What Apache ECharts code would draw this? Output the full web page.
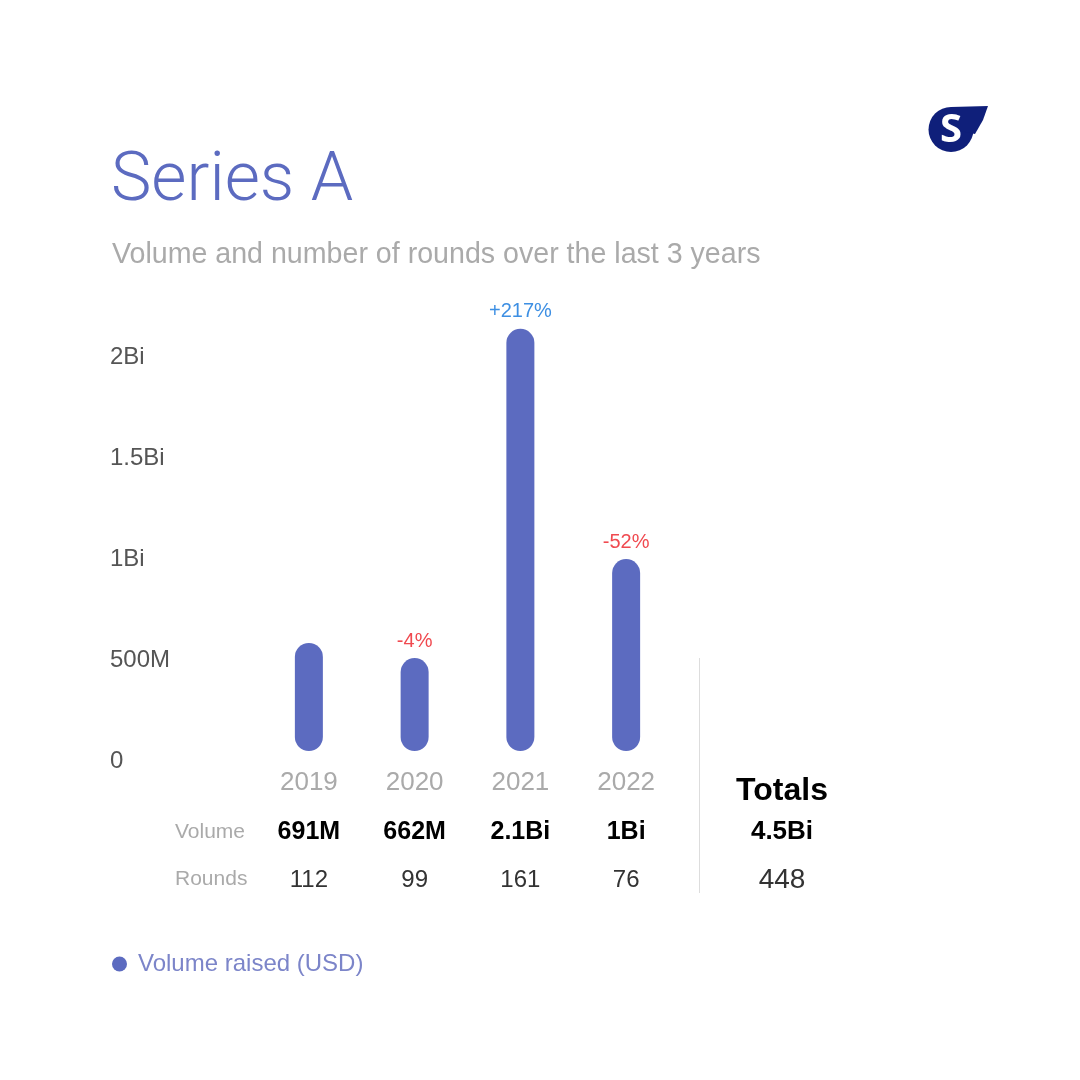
<!DOCTYPE html>
<html>
<head>
<meta charset="utf-8">
<script src="https://cdn.jsdelivr.net/npm/echarts@6/dist/echarts.min.js"></script>
<style>
  html, body { margin: 0; padding: 0; background: #fff; }
  #chart { width: 1080px; height: 1080px; }
</style>
</head>
<body>
<div id="chart"></div>
<script>
// data
var years = ['2019', '2020', '2021', '2022'];
var barValues = [535, 460, 2090, 950];          // M USD, bar heights as drawn
var volumeLabels = ['691M', '662M', '2.1Bi', '1Bi'];
var rounds = [112, 99, 161, 76];
var changes = ['', '-4%', '+217%', '-52%'];
var yTickLabels = { 0: '0', 500: '500M', 1000: '1Bi', 1500: '1.5Bi', 2000: '2Bi' };
var totalVolume = '4.5Bi';
var totalRounds = 448;

var FONT = '"Liberation Sans", Arial, sans-serif';
var PURPLE = '#5c6bc0';

var chart = echarts.init(document.getElementById('chart'), null, { renderer: 'canvas' });

var barData = barValues.map(function (v, i) {
  var c = changes[i];
  return {
    value: v,
    label: { color: c.charAt(0) === '+' ? '#3d8fe3' : '#f04a50' }
  };
});

var option = {
  backgroundColor: '#ffffff',
  textStyle: { fontFamily: FONT },
  title: [
    {
      text: 'Series A',
      left: 106, top: 142,
      textStyle: { fontFamily: 'Roboto, ' + FONT, fontWeight: 300, fontSize: 68, lineHeight: 72, color: PURPLE }
    },
    {
      text: 'Volume and number of rounds over the last 3 years',
      left: 107, top: 235,
      textStyle: { fontFamily: FONT, fontWeight: 'normal', fontSize: 28.6, lineHeight: 30, color: '#aaaaaa' }
    }
  ],
  legend: {
    left: 107, top: 947,
    icon: 'circle', itemWidth: 15, itemHeight: 15, itemGap: 10,
    textStyle: { color: '#7c85c9', fontSize: 24, fontFamily: FONT, padding: [0, 0, 0, 6] },
    data: ['Volume raised (USD)']
  },
  grid: { left: 256, right: 401, top: 246, bottom: 329 },
  xAxis: {
    type: 'category',
    data: years,
    axisLine: { show: false },
    axisTick: { show: false },
    axisLabel: {
      margin: 7,
      formatter: function (val, idx) {
        return '{y|' + val + '}\n{v|' + volumeLabels[idx] + '}\n{r|' + rounds[idx] + '}';
      },
      rich: {
        y: { fontSize: 26, lineHeight: 50, color: '#aaaaaa', fontFamily: FONT },
        v: { fontSize: 25, lineHeight: 48, color: '#000000', fontWeight: 'bold', fontFamily: FONT },
        r: { fontSize: 24, lineHeight: 48, color: '#333333', fontFamily: FONT }
      }
    }
  },
  yAxis: {
    type: 'value',
    min: 0, max: 2500, interval: 500,
    splitLine: { show: false },
    axisLine: { show: false },
    axisTick: { show: false },
    axisLabel: {
      align: 'left',
      verticalAlign: 'top',
      lineHeight: 20,
      margin: 146,
      fontSize: 24,
      color: '#555555',
      fontFamily: FONT,
      showMaxLabel: false,
      formatter: function (v) { return yTickLabels[v] !== undefined ? yTickLabels[v] : ''; }
    }
  },
  series: [
    {
      name: 'Volume raised (USD)',
      type: 'bar',
      barWidth: 28,
      itemStyle: { color: PURPLE, borderRadius: 14 },
      label: {
        show: true,
        position: 'top',
        distance: 7,
        fontSize: 20,
        fontFamily: FONT,
        formatter: function (p) { return changes[p.dataIndex]; }
      },
      data: barData
    }
  ],
  graphic: [
    // logo: round body + pointed tail
    {
      type: 'circle', z: 10,
      shape: { cx: 951, cy: 129.5, r: 22.5 },
      style: { fill: '#0f1f7a' }
    },
    {
      type: 'polygon', z: 10,
      shape: { points: [[951, 107], [988, 106], [983, 120], [975, 134], [951, 129]] },
      style: { fill: '#0f1f7a' }
    },
    {
      type: 'text', z: 11, x: 951, y: 131,
      style: { text: 'S', fill: '#ffffff', font: 'bold 40px "Open Sans", ' + FONT, align: 'center', verticalAlign: 'middle' }
    },
    // row headers
    {
      type: 'text', x: 175, y: 832,
      style: { text: 'Volume', fill: '#aaaaaa', font: '21px ' + FONT, verticalAlign: 'middle' }
    },
    {
      type: 'text', x: 175, y: 879,
      style: { text: 'Rounds', fill: '#aaaaaa', font: '21px ' + FONT, verticalAlign: 'middle' }
    },
    // totals column
    {
      type: 'line',
      shape: { x1: 699.5, y1: 658, x2: 699.5, y2: 893 },
      style: { stroke: '#dddddd', lineWidth: 1 }
    },
    {
      type: 'text', x: 782, y: 791,
      style: { text: 'Totals', fill: '#000000', font: 'bold 32px ' + FONT, align: 'center', verticalAlign: 'middle' }
    },
    {
      type: 'text', x: 782, y: 832,
      style: { text: totalVolume, fill: '#000000', font: 'bold 26px ' + FONT, align: 'center', verticalAlign: 'middle' }
    },
    {
      type: 'text', x: 782, y: 880,
      style: { text: String(totalRounds), fill: '#333333', font: '28px ' + FONT, align: 'center', verticalAlign: 'middle' }
    }
  ]
};

chart.setOption(option);
</script>
</body>
</html>
